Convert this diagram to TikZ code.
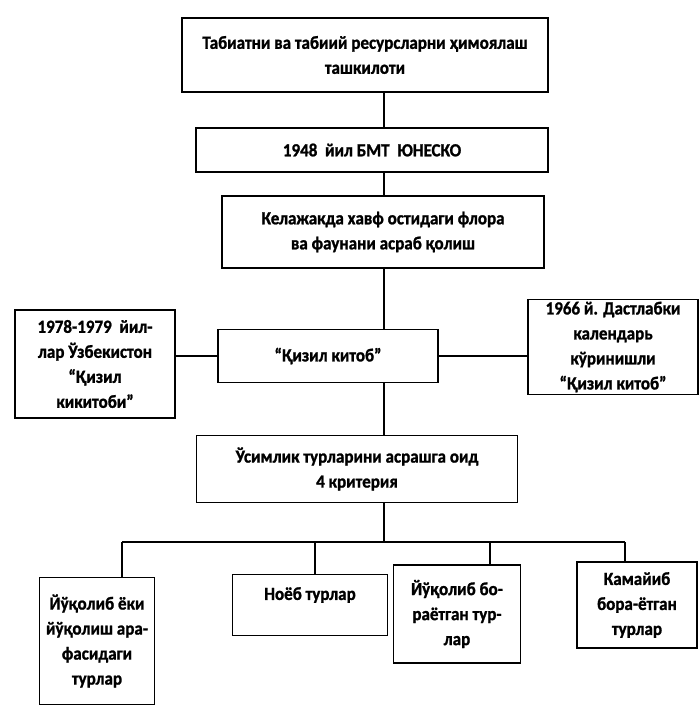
\documentclass[tikz,border=0pt]{standalone}
\usepackage{fontspec}
\setmainfont{Carlito}[BoldFeatures={FakeStretch=0.92,FakeBold=1.2}]
\begin{document}
\begin{tikzpicture}[x=1pt,y=-1pt,
  box/.style={draw, line width=1.8pt, align=center,
    font=\bfseries\fontsize{18.5}{25}\selectfont, inner sep=0pt},
  label/.style={font=\bfseries\fontsize{18.5}{25}\selectfont, inner sep=0pt},
  link/.style={line width=1.8pt}]
\useasboundingbox (0,0) rectangle (700,707);

% main column
\node[box, minimum width=366pt, minimum height=74pt] (org) at (365,55)
  {Табиатни ва табиий ресурсларни ҳимоялаш\\ташкилоти};
\node[box, minimum width=352pt, minimum height=44pt] (unesco) at (372,150)
  {1948 \ йил БМТ \ ЮНЕСКО};
\node[box, minimum width=322pt, minimum height=72pt] (aim) at (383,232)
  {Келажакда хавф остидаги флора\\ва фаунани асраб қолиш};
\node[box, minimum width=220pt, minimum height=53pt] (red) at (328,356)
  {“Қизил китоб”};
\node[box, minimum width=160pt, minimum height=108pt] (uzb) at (95,364)
  {1978-1979 \ йил-\\лар Ўзбекистон\\“Қизил\\кикитоби”};
\node[box, minimum width=170pt, minimum height=95pt] (cal) at (613,347)
  {1966 й. Дастлабки\\календарь\\кўринишли\\“Қизил китоб”};
\node[box, minimum width=321pt, minimum height=67pt] (crit) at (357,469)
  {Ўсимлик турларини асрашга оид\\4 критерия};

% categories
\node[box, minimum width=115pt, minimum height=127pt] (gone) at (97,641)
  {Йўқолиб ёки\\йўқолиш ара-\\фасидаги\\турлар};
\node[box, minimum width=155pt, minimum height=61pt] (rare) at (310,605) {};
\node[label] (raretxt) at (310,595) {Ноёб турлар};
\node[box, minimum width=127pt, minimum height=98pt] (vanish) at (457,614)
  {Йўқолиб бо-\\раётган тур-\\лар};
\node[box, minimum width=120pt, minimum height=86pt] (shrink) at (637,605)
  {Камайиб\\бора-ётган\\турлар};

% connectors
\coordinate (spine) at (384,0);
\coordinate (bus) at (384,542);
\coordinate (dA) at (122,542);
\coordinate (dB) at (315,542);
\coordinate (dC) at (490,542);
\coordinate (dD) at (625,542);

\draw[link] (org.south -| spine) -- (unesco.north -| spine);
\draw[link] (unesco.south -| spine) -- (aim.north -| spine);
\draw[link] (aim.south -| spine) -- (red.north -| spine);
\draw[link] (red.south -| spine) -- (crit.north -| spine);
\draw[link] (red.west) -- (red.west -| uzb.east);
\draw[link] (red.east) -- (red.east -| cal.west);
\draw[link] (crit.south -| spine) -- (bus);
\draw[link] (dA) -- (dD);
\draw[link] (dA) -- (dA |- gone.north);
\draw[link] (dB) -- (dB |- rare.north);
\draw[link] (dC) -- (dC |- vanish.north);
\draw[link] (dD) -- (dD |- shrink.north);
\end{tikzpicture}
\end{document}
